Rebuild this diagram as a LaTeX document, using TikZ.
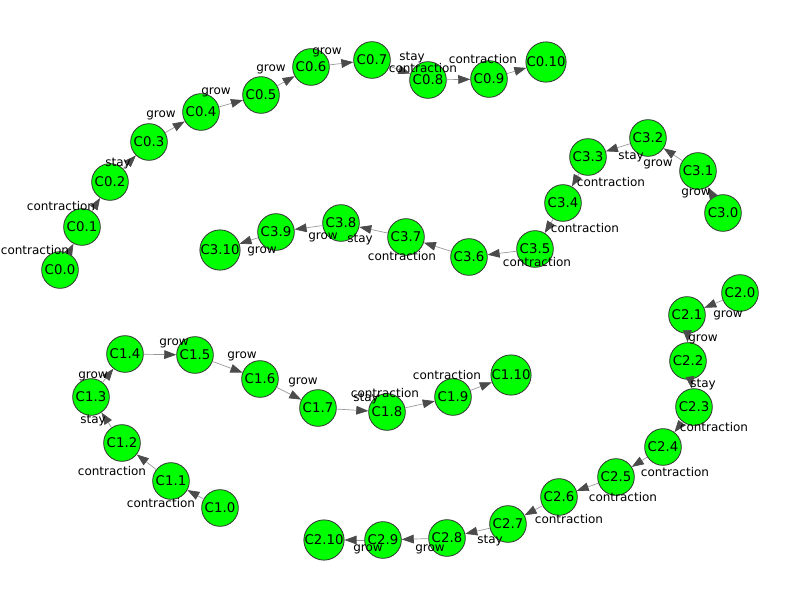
\documentclass[tikz,border=0pt]{standalone}
\usepackage{fontspec}
\setmainfont{DejaVu Sans}
\usetikzlibrary{arrows.meta}

\definecolor{cellgreen}{RGB}{0,255,0}
\definecolor{rimgray}{RGB}{50,50,50}
\definecolor{tipgray}{RGB}{75,75,75}
\definecolor{wiregray}{RGB}{150,150,150}

\begin{document}
\begin{tikzpicture}[x=0.75pt, y=-0.75pt]
		\tikzstyle{cell}=[circle, draw=rimgray, fill=cellgreen, line width=0.6pt, minimum size=27.5pt, inner sep=0pt, font=\fontsize{10}{12}\selectfont];
		\tikzstyle{move}=[draw=wiregray, line width=0.5pt, -{Triangle[length=9pt, width=6.5pt, color=tipgray]}];
		\tikzstyle{lab}=[inner sep=0pt, font=\fontsize{9}{11}\selectfont];

		\useasboundingbox (0,0) rectangle (800,600);

		% chain C0
		\node[cell] (c0-0) at (60,270) {C0.0};
		\node[cell] (c0-1) at (82,227) {C0.1};
		\node[cell] (c0-2) at (110,182) {C0.2};
		\node[cell] (c0-3) at (149,142) {C0.3};
		\node[cell] (c0-4) at (201,112) {C0.4};
		\node[cell] (c0-5) at (261,95) {C0.5};
		\node[cell] (c0-6) at (311,67) {C0.6};
		\node[cell] (c0-7) at (372,60) {C0.7};
		\node[cell] (c0-8) at (428,80) {C0.8};
		\node[cell] (c0-9) at (489,79) {C0.9};
		\node[cell] (c0-10) at (546,62) {C0.10};

		% chain C1
		\node[cell] (c1-0) at (220,508) {C1.0};
		\node[cell] (c1-1) at (171,481) {C1.1};
		\node[cell] (c1-2) at (122,443) {C1.2};
		\node[cell] (c1-3) at (91,397) {C1.3};
		\node[cell] (c1-4) at (125,354) {C1.4};
		\node[cell] (c1-5) at (195,355) {C1.5};
		\node[cell] (c1-6) at (260,379) {C1.6};
		\node[cell] (c1-7) at (318,408) {C1.7};
		\node[cell] (c1-8) at (387,412) {C1.8};
		\node[cell] (c1-9) at (453,397) {C1.9};
		\node[cell] (c1-10) at (511,375) {C1.10};

		% chain C2
		\node[cell] (c2-0) at (740,293) {C2.0};
		\node[cell] (c2-1) at (687,315) {C2.1};
		\node[cell] (c2-2) at (688,361) {C2.2};
		\node[cell] (c2-3) at (694,407) {C2.3};
		\node[cell] (c2-4) at (663,447) {C2.4};
		\node[cell] (c2-5) at (616,477) {C2.5};
		\node[cell] (c2-6) at (559,497) {C2.6};
		\node[cell] (c2-7) at (508,524) {C2.7};
		\node[cell] (c2-8) at (447,538) {C2.8};
		\node[cell] (c2-9) at (383,540) {C2.9};
		\node[cell] (c2-10) at (324,540) {C2.10};

		% chain C3
		\node[cell] (c3-0) at (723,213) {C3.0};
		\node[cell] (c3-1) at (698,171) {C3.1};
		\node[cell] (c3-2) at (648,138) {C3.2};
		\node[cell] (c3-3) at (588,157) {C3.3};
		\node[cell] (c3-4) at (563,203) {C3.4};
		\node[cell] (c3-5) at (535,249) {C3.5};
		\node[cell] (c3-6) at (469,257) {C3.6};
		\node[cell] (c3-7) at (406,237) {C3.7};
		\node[cell] (c3-8) at (341,223) {C3.8};
		\node[cell] (c3-9) at (276,232) {C3.9};
		\node[cell] (c3-10) at (220,250) {C3.10};

		% moves of C0
		\draw[move] (c0-0) -- (c0-1) node[lab] at (35,250) {contraction};
		\draw[move] (c0-1) -- (c0-2) node[lab] at (61,206) {contraction};
		\draw[move] (c0-2) -- (c0-3) node[lab] at (118,164) {stay};
		\draw[move] (c0-3) -- (c0-4) node[lab] at (161,115) {grow};
		\draw[move] (c0-4) -- (c0-5) node[lab] at (216,92) {grow};
		\draw[move] (c0-5) -- (c0-6) node[lab] at (271,69) {grow};
		\draw[move] (c0-6) -- (c0-7) node[lab] at (327,52) {grow};
		\draw[move] (c0-7) -- (c0-8) node[lab] at (412,58) {stay};
		\draw[move] (c0-8) -- (c0-9) node[lab] at (423,68) {contraction};
		\draw[move] (c0-9) -- (c0-10) node[lab] at (483,59) {contraction};

		% moves of C1
		\draw[move] (c1-0) -- (c1-1) node[lab] at (161,503) {contraction};
		\draw[move] (c1-1) -- (c1-2) node[lab] at (112,471) {contraction};
		\draw[move] (c1-2) -- (c1-3) node[lab] at (93,421) {stay};
		\draw[move] (c1-3) -- (c1-4) node[lab] at (93,376) {grow};
		\draw[move] (c1-4) -- (c1-5) node[lab] at (174,343) {grow};
		\draw[move] (c1-5) -- (c1-6) node[lab] at (242,356) {grow};
		\draw[move] (c1-6) -- (c1-7) node[lab] at (303,382) {grow};
		\draw[move] (c1-7) -- (c1-8) node[lab] at (366,399) {stay};
		\draw[move] (c1-8) -- (c1-9) node[lab] at (385,393) {contraction};
		\draw[move] (c1-9) -- (c1-10) node[lab] at (447,375) {contraction};

		% moves of C2
		\draw[move] (c2-0) -- (c2-1) node[lab] at (728,315) {grow};
		\draw[move] (c2-1) -- (c2-2) node[lab] at (703,339) {grow};
		\draw[move] (c2-2) -- (c2-3) node[lab] at (703,385) {stay};
		\draw[move] (c2-3) -- (c2-4) node[lab] at (714,427) {contraction};
		\draw[move] (c2-4) -- (c2-5) node[lab] at (675,472) {contraction};
		\draw[move] (c2-5) -- (c2-6) node[lab] at (623,497) {contraction};
		\draw[move] (c2-6) -- (c2-7) node[lab] at (569,519) {contraction};
		\draw[move] (c2-7) -- (c2-8) node[lab] at (490,541) {stay};
		\draw[move] (c2-8) -- (c2-9) node[lab] at (430,549) {grow};
		\draw[move] (c2-9) -- (c2-10) node[lab] at (368,549) {grow};

		% moves of C3
		\draw[move] (c3-0) -- (c3-1) node[lab] at (696,193) {grow};
		\draw[move] (c3-1) -- (c3-2) node[lab] at (658,164) {grow};
		\draw[move] (c3-2) -- (c3-3) node[lab] at (631,157) {stay};
		\draw[move] (c3-3) -- (c3-4) node[lab] at (611,182) {contraction};
		\draw[move] (c3-4) -- (c3-5) node[lab] at (585,228) {contraction};
		\draw[move] (c3-5) -- (c3-6) node[lab] at (537,262) {contraction};
		\draw[move] (c3-6) -- (c3-7) node[lab] at (402,256) {contraction};
		\draw[move] (c3-7) -- (c3-8) node[lab] at (360,240) {stay};
		\draw[move] (c3-8) -- (c3-9) node[lab] at (323,237) {grow};
		\draw[move] (c3-9) -- (c3-10) node[lab] at (262,251) {grow};
	\end{tikzpicture}
\end{document}
